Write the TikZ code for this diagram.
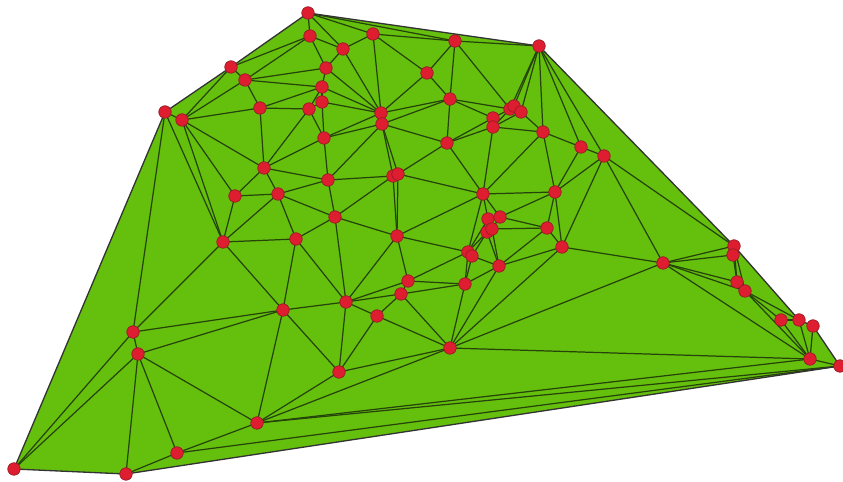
\documentclass[tikz,border=0pt]{standalone}
\usetikzlibrary{positioning}
\definecolor{meshgreen}{RGB}{101,192,14}
\definecolor{edgedark}{RGB}{38,68,10}
\definecolor{dotred}{RGB}{222,30,48}
\definecolor{dotrim}{RGB}{150,28,36}

\begin{document}
\begin{tikzpicture}[x=0.02cm,y=-0.02cm,
  site/.style={circle,fill=dotred,draw=dotrim,line width=0.4pt,inner sep=0pt,minimum size=0.25cm},
  mesh/.style={edgedark,line width=0.7pt},
  hull/.style={black!80,line width=0.75pt}]
\useasboundingbox (0,0) rectangle (843,482);

% ============ sites ============
\foreach \n/\x/\y in {a1/308/13,a2/310/36,a3/343/49,a4/373/34,a5/455/41,a6/539/46,
  a7/231/67,a8/245/80,a9/326/68,a10/427/73,a11/322/87,a12/165/112,a13/182/120,
  a14/260/108,a15/309/109,a16/322/102,a17/381/113,a18/382/124,a19/450/99,
  a20/510/109,a21/514/106,a22/521/112,a23/493/118,a24/493/127,a25/324/138,
  a26/447/143,a27/543/132,a28/581/147,a29/604/156,a30/264/168,a31/328/180,
  a32/393/176,a33/398/174,a34/235/196,a35/278/194,a36/483/194,a37/555/192,
  a38/335/217,a39/488/219,a40/500/217,a41/487/232,a42/492/229,a43/547/228,
  a44/223/242,a45/296/239,a46/397/236,a47/562/247,a48/468/252,a49/472/256,
  a50/499/266,a51/663/263,a52/734/246,a53/733/255,a54/408/281,a55/465/284,
  a56/401/294,a57/737/282,a58/745/291,a59/283/310,a60/346/302,a61/377/316,
  a62/133/332,a63/781/320,a64/799/320,a65/813/326,a66/138/354,a67/450/348,
  a68/810/359,a69/840/366,a70/339/372,a71/257/423,a72/177/453,a73/14/469,
  a74/126/474}{
  \coordinate (\n) at (\x,\y);
}

% ============ region ============
\fill[meshgreen] (a1) -- (a6) -- (a52) -- (a64) -- (a65) -- (a69) -- (a74)
  -- (a73) -- (a12) -- (a7) -- cycle;

% ============ triangulation ============
\foreach \u/\v in {a1/a2,a1/a3,a1/a4,a1/a5,a2/a7,a2/a8,a2/a9,a2/a3,a3/a4,a3/a9,a3/a17,
  a4/a5,a4/a10,a4/a17,a5/a6,a5/a10,a5/a19,a5/a20,a6/a20,a6/a21,a6/a22,a6/a27,a6/a28,a6/a29,
  a7/a8,a7/a13,a8/a9,a8/a11,a8/a14,a8/a13,a9/a11,a9/a17,a10/a17,a10/a19,
  a11/a14,a11/a15,a11/a16,a11/a17,a12/a13,a12/a44,a12/a62,
  a13/a14,a13/a30,a13/a34,a13/a44,a14/a15,a14/a30,a15/a16,a15/a25,a15/a30,
  a16/a25,a16/a17,a17/a25,a17/a18,a17/a19,
  a18/a25,a18/a31,a18/a32,a18/a33,a18/a26,a18/a19,a19/a26,a19/a23,a19/a20,
  a20/a21,a20/a22,a20/a23,a20/a24,a21/a22,a22/a24,a22/a27,a23/a24,a23/a26,
  a24/a26,a24/a27,a24/a36,a25/a30,a25/a31,a26/a33,a26/a36,
  a27/a28,a27/a36,a27/a37,a28/a29,a28/a37,a29/a37,a29/a47,a29/a51,a29/a52,
  a30/a31,a30/a35,a30/a34,a31/a32,a31/a38,a31/a35,a32/a33,a32/a38,a32/a46,
  a33/a46,a33/a36,a34/a35,a34/a44,a35/a44,a35/a45,a35/a38,
  a36/a37,a36/a39,a36/a40,a36/a46,a36/a48,a37/a40,a37/a43,a37/a47,
  a38/a45,a38/a46,a38/a60,a39/a40,a39/a41,a39/a42,a39/a48,a40/a42,a40/a43,
  a41/a42,a41/a48,a41/a49,a41/a50,a42/a43,a42/a50,a43/a47,a43/a50,
  a44/a45,a44/a59,a44/a62,a45/a59,a45/a60,a46/a48,a46/a54,a46/a60,
  a47/a50,a47/a51,a47/a67,a48/a49,a48/a54,a48/a55,a49/a50,a49/a55,a50/a55,a50/a67,
  a51/a52,a51/a53,a51/a57,a51/a58,a51/a67,a51/a68,a52/a53,a52/a57,a52/a58,a53/a57,
  a54/a55,a54/a56,a54/a60,a55/a56,a55/a67,a56/a60,a56/a61,a56/a67,a57/a58,
  a58/a63,a58/a64,a58/a68,a59/a60,a59/a62,a59/a66,a59/a70,a59/a71,
  a60/a61,a60/a70,a61/a67,a61/a70,a62/a66,a62/a73,a63/a64,a63/a68,a64/a68,a65/a68,
  a66/a71,a66/a72,a66/a73,a66/a74,a67/a68,a67/a70,a67/a71,a68/a69,a68/a71,
  a69/a71,a69/a72,a71/a70,a71/a72,a72/a74}{
  \draw[mesh] (\u) -- (\v);
}

% outline
\draw[hull] (a1) -- (a6) -- (a52) -- (a64) -- (a65) -- (a69) -- (a74)
  -- (a73) -- (a12) -- (a7) -- cycle;

% ============ dots ============
\foreach \n in {1,...,74}{
  \node[site] (s\n) at (a\n) {};
}

\end{tikzpicture}
\end{document}
